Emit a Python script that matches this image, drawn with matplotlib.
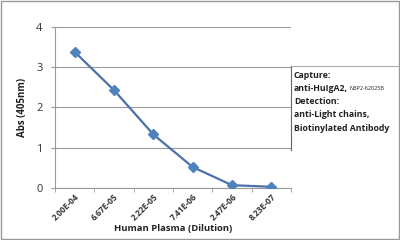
import matplotlib.pyplot as plt
from matplotlib.lines import Line2D

# dados
dilucoes = ["2.00E-04", "6.67E-05", "2.22E-05", "7.41E-06", "2.47E-06", "8.23E-07"]
absorbancia = [3.38, 2.43, 1.33, 0.52, 0.07, 0.03]
yticks = [0, 1, 2, 3, 4]

plt.rcParams['font.family'] = ['Open Sans', 'DejaVu Sans']

fig = plt.figure(figsize=(4, 2.4), dpi=100)
ax = fig.add_axes([0.1375, 0.2167, 0.59, 0.671])

x = list(range(len(dilucoes)))
ax.plot(x, absorbancia, color="#4A72A8", lw=1.6, marker="D", ms=5,
        mfc="#4F81BD", mec="#4F81BD", zorder=3)

ax.set_xlim(-0.5, len(dilucoes) - 0.5)
ax.set_ylim(0, 4)
ax.set_yticks(yticks)
ax.set_yticklabels([str(t) for t in yticks], fontsize=8, color="#333333")
ax.set_xticks(x)
ax.set_xticklabels(dilucoes, rotation=45, ha="right", rotation_mode="anchor",
                   fontsize=6, fontweight="bold", color="#333333")
ax.tick_params(axis="x", length=0, pad=3)
ax.tick_params(axis="y", length=3, color="#999999", pad=6)
# marcas entre categorias
ax.set_xticks([i + 0.5 for i in range(-1, len(dilucoes))], minor=True)
ax.tick_params(axis="x", which="minor", length=3, color="#999999")

ax.grid(axis="y", color="#999999", lw=0.8)
ax.set_axisbelow(True)
for s in ["top", "right"]:
    ax.spines[s].set_visible(False)
ax.spines["left"].set_color("#999999")
ax.spines["bottom"].set_color("#999999")

ax.set_ylabel("Abs (405nm)", fontsize=7, fontweight="bold", color="#222222", labelpad=6)
ax.set_xlabel("Human Plasma (Dilution)", fontsize=6.8, fontweight="bold", color="#222222", labelpad=1)

# caixa de texto
fig.add_artist(Line2D([0.7275, 0.7275], [1 - 150/240, 1 - 66/240], transform=fig.transFigure,
                      color="#666666", lw=0.8))
fig.add_artist(Line2D([0.7275, 0.995], [1 - 66/240, 1 - 66/240], transform=fig.transFigure,
                      color="#999999", lw=0.6))
linhas = ["Capture:", "anti-HuIgA2,", "Detection:", "anti-Light chains,", "Biotinylated Antibody"]
for i, t in enumerate(linhas):
    fig.text(0.735, 1 - (75 + i * 13.3) / 240, t, fontsize=6.3, fontweight="bold",
             color="#222222", va="center")
fig.text(0.875, 1 - (75 + 13.3) / 240, "NBP2-62025B", fontsize=4, color="#222222", va="center")

# borda externa
fig.patches.append(plt.Rectangle((0.002, 0.003), 0.996, 0.994, transform=fig.transFigure,
                                 fill=False, ec="#999999", lw=1))

fig.savefig("out.png", dpi=100)
